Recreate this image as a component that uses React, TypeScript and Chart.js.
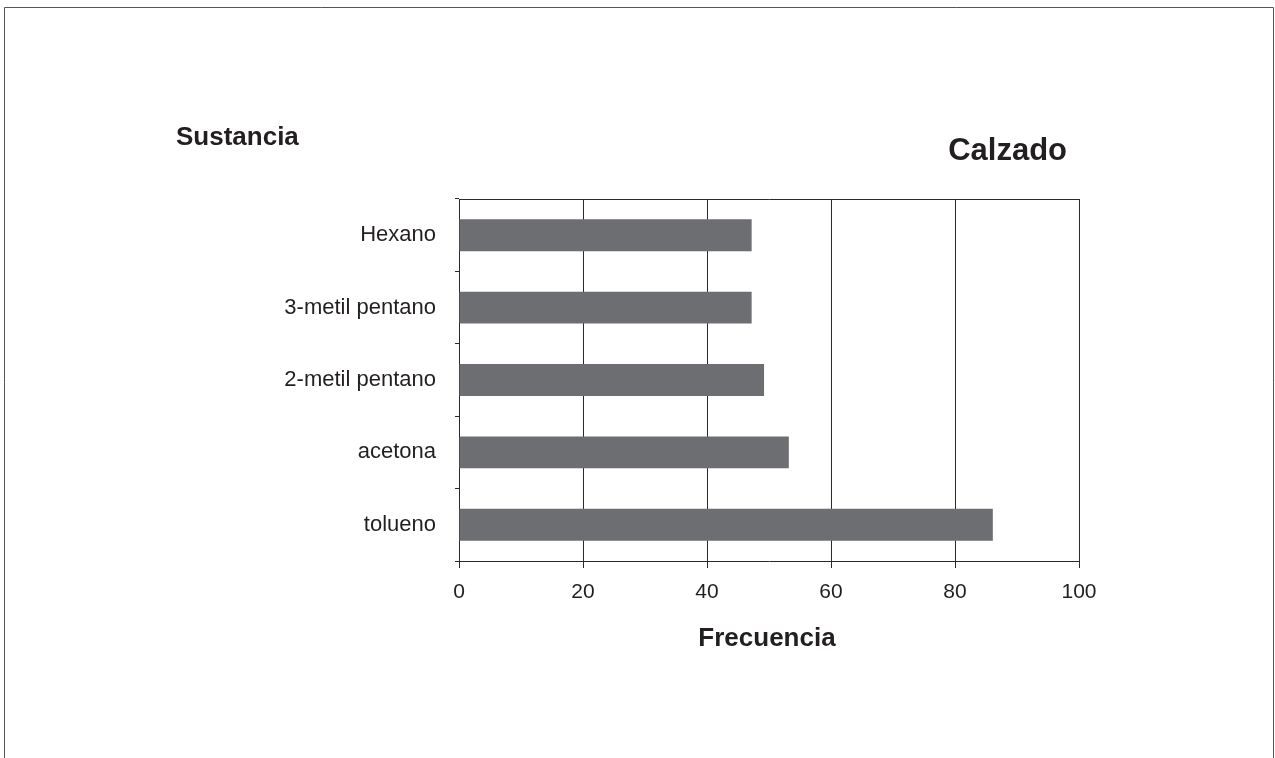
import React, { useEffect, useRef } from "react";
import { Chart, registerables } from "chart.js";

Chart.register(...registerables);

const categories = ["Hexano", "3-metil pentano", "2-metil pentano", "acetona", "tolueno"];
const frecuencia = [47.2, 47.2, 49.2, 53.2, 86.1];
const xTickValues = [0, 20, 40, 60, 80, 100];
const titleText = "Calzado";
const yTitleText = "Sustancia";
const xTitleText = "Frecuencia";

const FONT = "'Liberation Sans', Arial, Helvetica, sans-serif";
const INK = "#231f20";
const LINE = "#2a2a2a";
const BAR = "#6d6e71";

const W = 1275;
const H = 758;

const decorPlugin = {
  id: "decor",
  afterDraw(chart: any) {
    const { ctx, chartArea } = chart;
    ctx.save();
    // page frame (open at bottom)
    ctx.strokeStyle = "#555555";
    ctx.lineWidth = 1;
    ctx.beginPath();
    ctx.moveTo(4.5, H);
    ctx.lineTo(4.5, 7.5);
    ctx.lineTo(1273.5, 7.5);
    ctx.lineTo(1273.5, H);
    ctx.stroke();
    // top border of plot area
    ctx.strokeStyle = LINE;
    ctx.beginPath();
    ctx.moveTo(chartArea.left, Math.round(chartArea.top) + 0.5);
    ctx.lineTo(chartArea.right + 0.5, Math.round(chartArea.top) + 0.5);
    ctx.stroke();
    // titles
    ctx.fillStyle = INK;
    ctx.textBaseline = "alphabetic";
    ctx.font = `bold 26px ${FONT}`;
    ctx.textAlign = "left";
    ctx.fillText(yTitleText, 176, 145);
    ctx.font = `bold 31px ${FONT}`;
    ctx.textAlign = "right";
    ctx.fillText(titleText, 1067, 160);
    ctx.font = `bold 26px ${FONT}`;
    ctx.textAlign = "center";
    ctx.fillText(xTitleText, 767, 646);
    ctx.restore();
  },
};

export default function App() {
  const ref = useRef<HTMLCanvasElement | null>(null);

  useEffect(() => {
    if (!ref.current) return;
    const chart = new Chart(ref.current, {
      type: "bar",
      data: {
        labels: categories,
        datasets: [
          {
            data: frecuencia,
            backgroundColor: BAR,
            borderWidth: 0,
            barPercentage: 0.44,
            categoryPercentage: 1,
          },
        ],
      },
      options: {
        indexAxis: "y",
        responsive: false,
        animation: false,
        devicePixelRatio: 1,
        layout: { padding: { left: 0, top: 199, right: 196, bottom: 0 } },
        plugins: {
          legend: { display: false },
          tooltip: { enabled: false },
          title: { display: false },
        },
        scales: {
          x: {
            type: "linear",
            min: 0,
            max: 100,
            afterBuildTicks: (scale: any) => {
              scale.ticks = xTickValues.map((v) => ({ value: v }));
            },
            afterFit: (scale: any) => {
              scale.height = 197;
            },
            ticks: {
              color: INK,
              font: { family: FONT, size: 21 },
              padding: 12,
              maxRotation: 0,
            },
            grid: {
              color: LINE,
              lineWidth: 1,
              drawTicks: true,
              tickLength: 7,
            },
            border: { display: true, color: LINE, width: 1 },
          },
          y: {
            type: "category",
            afterFit: (scale: any) => {
              scale.width = 459;
            },
            ticks: {
              color: INK,
              font: { family: FONT, size: 22 },
              padding: 19,
            },
            grid: {
              offset: true,
              drawOnChartArea: false,
              drawTicks: true,
              tickLength: 4,
              color: LINE,
              lineWidth: 1,
            },
            border: { display: true, color: LINE, width: 1 },
          },
        },
      },
      plugins: [decorPlugin],
    } as any);
    return () => chart.destroy();
  }, []);

  return (
    <div style={{ position: "fixed", left: 0, top: 0, width: W, height: H, background: "#fff" }}>
      <canvas ref={ref} width={W} height={H} style={{ display: "block", width: W, height: H }} />
    </div>
  );
}
